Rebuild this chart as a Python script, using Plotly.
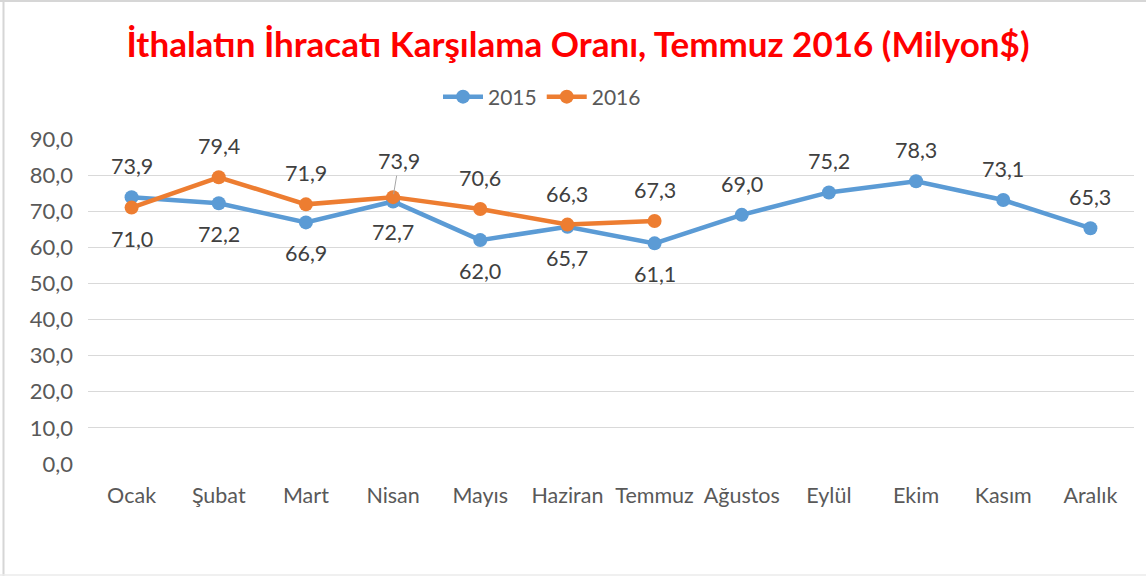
import plotly.graph_objects as go

months = ["Ocak", "Şubat", "Mart", "Nisan", "Mayıs", "Haziran", "Temmuz",
          "Ağustos", "Eylül", "Ekim", "Kasım", "Aralık"]
y2015 = [73.9, 72.2, 66.9, 72.7, 62.0, 65.7, 61.1, 69.0, 75.2, 78.3, 73.1, 65.3]
y2016 = [71.0, 79.4, 71.9, 73.9, 70.6, 66.3, 67.3]
# label placement: +1 above, -1 below
pos2015 = [1, -1, -1, -1, -1, -1, -1, 1, 1, 1, 1, 1]
pos2016 = [-1, 1, 1, 1, 1, 1, 1]

W, H = 1146, 576
L, R, T, B = 88, 12, 139, 112
pw, ph = W - L - R, H - T - B

BLUE = "#5B9BD5"
ORANGE = "#ED7D31"
FONT = "Lato"
LBL = 21.5

fig = go.Figure()
fig.add_trace(go.Scatter(x=months, y=y2015, name="2015", mode="lines+markers",
                         line=dict(color=BLUE, width=4.5),
                         marker=dict(color=BLUE, size=14)))
fig.add_trace(go.Scatter(x=months[:len(y2016)], y=y2016, name="2016", mode="lines+markers",
                         line=dict(color=ORANGE, width=4.5),
                         marker=dict(color=ORANGE, size=14)))

def fmt(v):
    return f"{v:.1f}".replace(".", ",")

anns = []
for m, v, p in zip(months, y2015, pos2015):
    anns.append(dict(x=m, y=v, text=fmt(v), showarrow=False, yshift=31 * p,
                     font=dict(family=FONT, size=LBL, color="#404040")))
for m, v, p in zip(months, y2016, pos2016):
    if m == "Nisan":
        anns.append(dict(x=m, y=v, text=fmt(v), showarrow=True, arrowhead=0,
                         arrowwidth=1, arrowcolor="#A6A6A6", ax=6, ay=-36, standoff=3,
                         font=dict(family=FONT, size=LBL, color="#404040")))
    else:
        anns.append(dict(x=m, y=v, text=fmt(v), showarrow=False, yshift=31 * p,
                         font=dict(family=FONT, size=LBL, color="#404040")))

def px_x(p):
    return (p - L) / pw

def px_y(p):
    return 1 - (p - T) / ph

border = dict(color="#D6D6D6", width=2)
shapes = [
    dict(type="line", xref="paper", yref="paper", x0=px_x(0), x1=px_x(W),
         y0=px_y(1), y1=px_y(1), line=border, layer="below"),
    dict(type="line", xref="paper", yref="paper", x0=px_x(3.5), x1=px_x(3.5),
         y0=px_y(0), y1=px_y(H), line=border, layer="below"),
    dict(type="line", xref="paper", yref="paper", x0=px_x(0), x1=px_x(W),
         y0=px_y(575), y1=px_y(575), line=dict(color="#EBEBEB", width=1.5), layer="below"),
]

fig.update_layout(
    width=W, height=H,
    margin=dict(l=L, r=R, t=T, b=B, autoexpand=False),
    paper_bgcolor="white", plot_bgcolor="white",
    separators=",.",
    title=dict(text="<b>İthalatın İhracatı Karşılama Oranı, Temmuz 2016 (Milyon$)</b>",
               x=px_x(578), xanchor="center", xref="paper", y=1 - 45 / H, yanchor="middle",
               yref="container",
               font=dict(family=FONT, size=35, color="#FF0000")),
    legend=dict(orientation="h", x=px_x(542), xanchor="center",
                y=px_y(97), yanchor="middle",
                font=dict(family=FONT, size=21, color="#595959"),
                itemwidth=40, traceorder="normal"),
    showlegend=True,
    annotations=anns,
    xaxis=dict(showgrid=False, showline=False, zeroline=False, ticks="",
               tickfont=dict(family=FONT, size=21.5, color="#595959"),
               range=[-0.5, 11.5], ticklabelstandoff=16),
    yaxis=dict(range=[0, 90], dtick=10, tickformat=".1f", showgrid=True,
               gridcolor="#D9D9D9", gridwidth=1.3, zeroline=False, showline=False,
               tickfont=dict(family=FONT, size=22, color="#595959"),
               ticklabelstandoff=14),
    shapes=shapes,
)

fig.write_html("out.html", config={"displayModeBar": False},
               post_script="document.body.style.margin='0';")
